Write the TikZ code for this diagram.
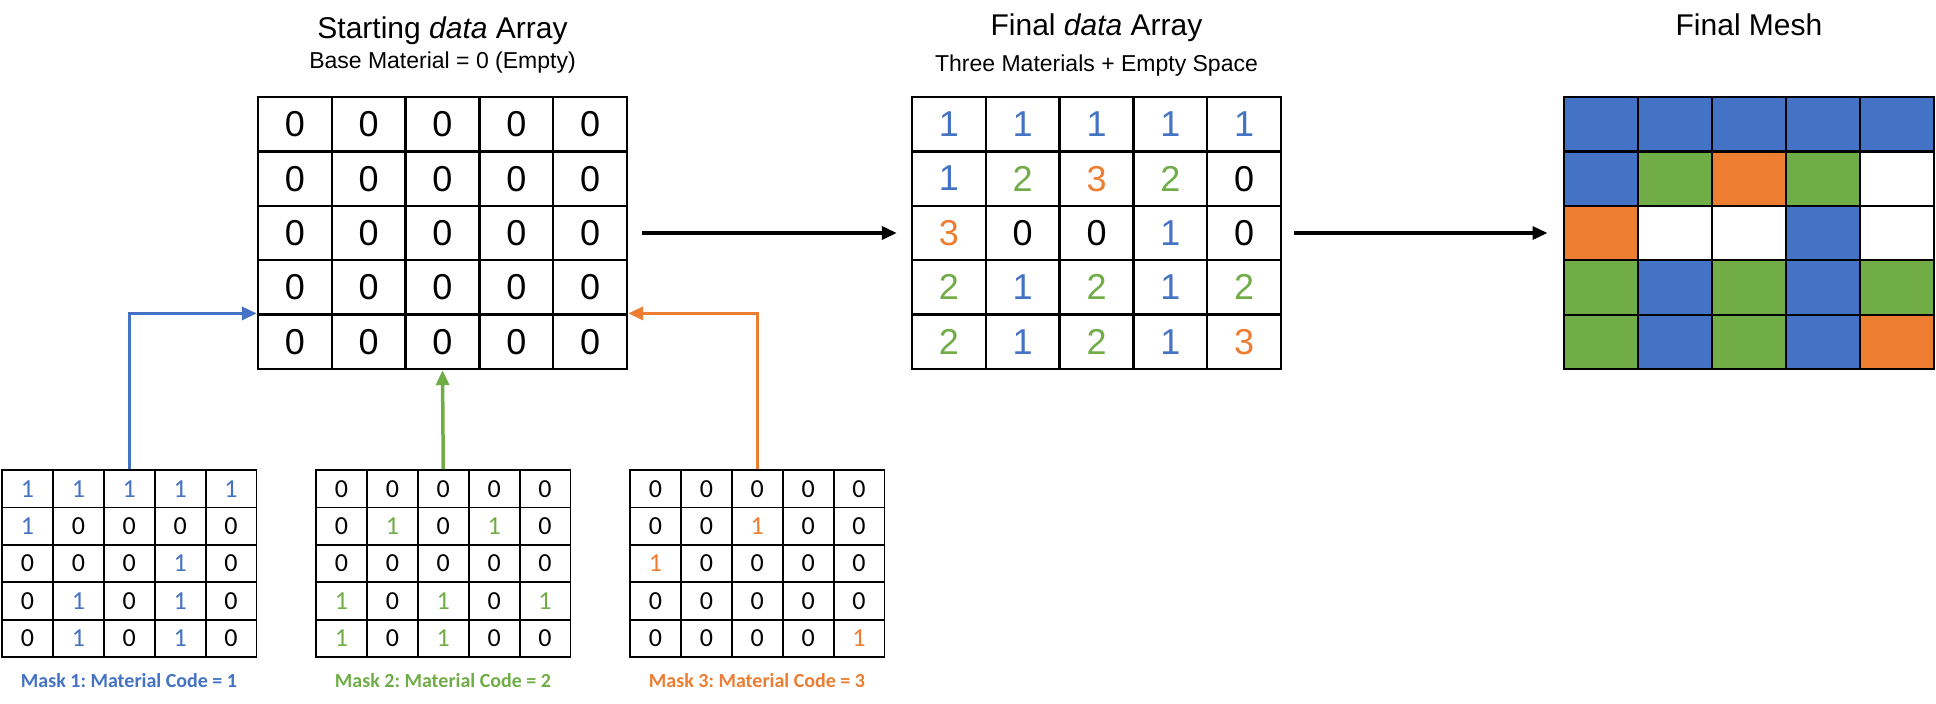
\documentclass[tikz,border=0pt]{standalone}
\usepackage{fontspec}
\setmainfont{Liberation Sans}
\newfontfamily\calibri{Carlito}
\frenchspacing
\usetikzlibrary{arrows.meta}
\definecolor{matblue}{HTML}{4472C4}
\definecolor{matgreen}{HTML}{70AD47}
\definecolor{matorange}{HTML}{ED7D31}
% text colour per value
\colorlet{num0}{black}
\colorlet{num1}{matblue}
\colorlet{num2}{matgreen}
\colorlet{num3}{matorange}
% fill colour per value
\colorlet{tile0}{white}
\colorlet{tile1}{matblue}
\colorlet{tile2}{matgreen}
\colorlet{tile3}{matorange}
% mask colours
\colorlet{mone0}{black}\colorlet{mone1}{matblue}
\colorlet{mtwo0}{black}\colorlet{mtwo1}{matgreen}
\colorlet{mthree0}{black}\colorlet{mthree1}{matorange}
\tikzset{
  cell/.style={draw=black, line width=1.2pt, minimum width=36.9pt, minimum height=27.2pt, inner sep=0pt, font=\fontsize{18}{20}\selectfont},
  meshcell/.style={draw=black, line width=1.1pt, minimum width=37pt, minimum height=27.2pt, inner sep=0pt},
  maskcell/.style={draw=black, line width=0.9pt, minimum width=25.45pt, minimum height=18.7pt, inner sep=0pt, font=\calibri\fontsize{13}{15}\selectfont},
  title/.style={anchor=base, inner sep=0pt, font=\fontsize{15}{18}\selectfont},
  subtitle/.style={anchor=base, inner sep=0pt, font=\fontsize{11.5}{14}\selectfont},
  masklabel/.style={anchor=base, inner sep=0pt, font=\calibri\bfseries\fontsize{10}{12}\selectfont},
  flow/.style={-{Triangle[length=7.5pt,width=6.5pt]}, line width=1.75pt}
}

\begin{document}
\begin{tikzpicture}[x=0.5pt,y=-0.5pt]
  \useasboundingbox (0,0) rectangle (1936,703);
  % starting array
  \node[title] (stitle) at (442.5,38) {Starting \textit{data} Array};
  \node[subtitle] (ssub) at (442.5,68) {Base Material = 0 (Empty)};
  \foreach \r in {1,...,5}{\foreach \c in {1,...,5}{\node[cell] (s-\r-\c) at ({258+(\c-0.5)*73.8},{97+(\r-0.5)*54.4}) {0};}}
  % final array
  \node[title] (ftitle) at (1096.5,35) {Final \textit{data} Array};
  \node[subtitle] (fsub) at (1096.5,71) {Three Materials + Empty Space};
  \foreach \row [count=\r] in {{1,1,1,1,1},{1,2,3,2,0},{3,0,0,1,0},{2,1,2,1,2},{2,1,2,1,3}}{
    \foreach \v [count=\c] in \row {\node[cell, text=num\v] (f-\r-\c) at ({912+(\c-0.5)*73.8},{97+(\r-0.5)*54.4}) {\v};}}
  % final mesh
  \node[title] (gtitle) at (1749,35) {Final Mesh};
  \foreach \row [count=\r] in {{1,1,1,1,1},{1,2,3,2,0},{3,0,0,1,0},{2,1,2,1,2},{2,1,2,1,3}}{
    \foreach \v [count=\c] in \row {\node[meshcell, fill=tile\v] (g-\r-\c) at ({1564+(\c-0.5)*74},{97+(\r-0.5)*54.4}) {};}}
  % masks
  \foreach \row [count=\r] in {{1,1,1,1,1},{1,0,0,0,0},{0,0,0,1,0},{0,1,0,1,0},{0,1,0,1,0}}{
    \foreach \v [count=\c] in \row {\node[maskcell, text=mone\v] (ma-\r-\c) at ({2+(\c-0.5)*50.9},{470+(\r-0.5)*37.4}) {\v};}}
  \foreach \row [count=\r] in {{0,0,0,0,0},{0,1,0,1,0},{0,0,0,0,0},{1,0,1,0,1},{1,0,1,0,0}}{
    \foreach \v [count=\c] in \row {\node[maskcell, text=mtwo\v] (mb-\r-\c) at ({316+(\c-0.5)*50.9},{470+(\r-0.5)*37.4}) {\v};}}
  \foreach \row [count=\r] in {{0,0,0,0,0},{0,0,1,0,0},{1,0,0,0,0},{0,0,0,0,0},{0,0,0,0,1}}{
    \foreach \v [count=\c] in \row {\node[maskcell, text=mthree\v] (mc-\r-\c) at ({630+(\c-0.5)*50.9},{470+(\r-0.5)*37.4}) {\v};}}
  \node[masklabel, text=matblue] (ma-label) at (129,687) {Mask 1: Material Code = 1};
  \node[masklabel, text=matgreen] (mb-label) at (443,687) {Mask 2: Material Code = 2};
  \node[masklabel, text=matorange] (mc-label) at (757,687) {Mask 3: Material Code = 3};
  % arrows
  \draw[flow, matblue] (ma-1-3.north) |- (s-5-1.north west);
  \draw[flow, matgreen] (mb-1-3.north) -- (s-5-3.south);
  \draw[flow, matorange] (mc-1-3.north) |- (s-5-5.north east);
  \draw[flow, shorten <=7pt, shorten >=7pt] (s-3-5.east) -- (f-3-1.west);
  \draw[flow, shorten <=5.7pt, shorten >=7.7pt] (f-3-5.east) -- (g-3-1.west);
\end{tikzpicture}
\end{document}
